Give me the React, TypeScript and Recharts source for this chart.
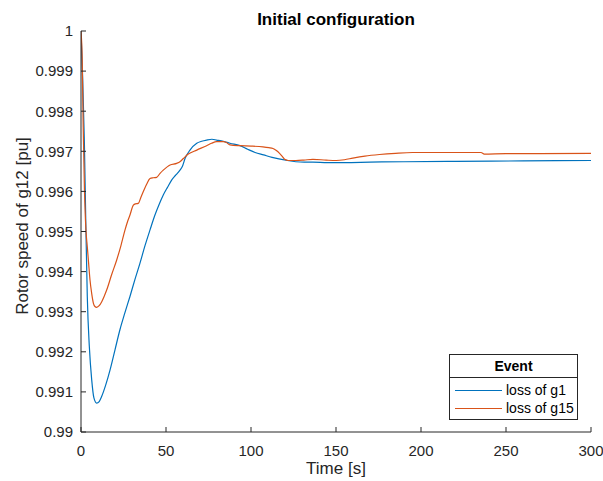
import { LineChart, Line, XAxis, YAxis, Legend } from "recharts";

const timeTicks = [0, 50, 100, 150, 200, 250, 300];
const speedTicks = [0.99, 0.991, 0.992, 0.993, 0.994, 0.995, 0.996, 0.997, 0.998, 0.999, 1];

// loss of g1
const g1Time = [
  0, 1, 2, 2.9, 3.7, 4.9, 6.3, 7.6, 9.2, 10.7, 12.2, 14.6, 17.1, 20, 22.9, 25.8, 28.8, 31.7, 34.7,
  37.6, 40.6, 43.5, 46, 48.4, 51, 53.3, 55.8, 58.2, 59.8, 61.2, 64.1, 68.1, 71, 73.9, 77, 79.8, 83.7,
  87.6, 93.5, 98, 102.4, 107.4, 112.4, 116.4, 121.4, 126.4, 131.4, 136.4, 145, 155, 170, 190, 220,
  260, 300,
];
const g1Speed = [
  1.0, 0.9988, 0.9972, 0.99504, 0.99338, 0.99213, 0.9913, 0.99085, 0.99072, 0.99076, 0.99089,
  0.99118, 0.99155, 0.99205, 0.99255, 0.99297, 0.99338, 0.9938, 0.99421, 0.99464, 0.99504, 0.99541,
  0.99568, 0.99591, 0.99611, 0.99628, 0.99641, 0.99653, 0.99664, 0.99682, 0.99703, 0.9972, 0.99725,
  0.99728, 0.9973, 0.99728, 0.99725, 0.9972, 0.99714, 0.99705, 0.99697, 0.99691, 0.99685, 0.99681,
  0.99677, 0.99674, 0.99673, 0.99673, 0.99672, 0.99672, 0.99673, 0.99674, 0.99675, 0.99676, 0.99677,
];

// loss of g15
const g15Time = [
  0, 0.7, 1.3, 2, 2.9, 3.7, 4.5, 5.3, 6.3, 7.3, 8.2, 9.2, 10.7, 12.2, 13.6, 15.1, 18, 21, 23.5, 25.9,
  27.4, 28.8, 30.8, 32, 33.7, 35.2, 36.6, 38.6, 40.6, 42.5, 44.5, 46.5, 48.4, 52.4, 56.3, 58.2, 60.2,
  63.1, 68.1, 73.9, 76.8, 79.8, 83.7, 85.5, 87.6, 93.5, 100, 107, 110.5, 112.9, 114.5, 116.8, 118.5,
  119.8, 122, 126.4, 131, 136.4, 144.2, 150.1, 155, 159.9, 167, 175.6, 185, 195, 207, 220, 235.3,
  237.2, 250, 270, 300,
];
const g15Speed = [
  1.0, 0.9993, 0.9976, 0.9961, 0.99504, 0.99462, 0.9942, 0.99379, 0.99345, 0.99321, 0.99313, 0.99311,
  0.99315, 0.99325, 0.99338, 0.99354, 0.99392, 0.99429, 0.99465, 0.99504, 0.99525, 0.99541, 0.99566,
  0.99569, 0.9957, 0.99585, 0.99599, 0.99618, 0.99632, 0.99634, 0.99635, 0.99645, 0.99653, 0.99666,
  0.9967, 0.99674, 0.99682, 0.99693, 0.99703, 0.99714, 0.9972, 0.99724, 0.99724, 0.99722, 0.99716,
  0.99714, 0.99713, 0.99711, 0.99709, 0.99707, 0.99703, 0.99695, 0.99687, 0.9968, 0.99677, 0.99677,
  0.99678, 0.9968, 0.99678, 0.99677, 0.99679, 0.99683, 0.99688, 0.99692, 0.99695, 0.99697, 0.99697,
  0.99697, 0.99697, 0.99693, 0.99694, 0.99694, 0.99695,
];

const BLUE = "#0072bd";
const ORANGE = "#d95319";
const AXIS = "#262626";
const FONT = '"Liberation Sans", Arial, Helvetica, sans-serif';

const g1Data = g1Time.map((t, i) => ({ t, speed: g1Speed[i] }));
const g15Data = g15Time.map((t, i) => ({ t, speed: g15Speed[i] }));

function EventLegend({ payload }: { payload?: any[] }) {
  return (
    <div
      style={{
        boxSizing: "border-box",
        width: 129,
        height: 66,
        border: `1px solid ${AXIS}`,
        background: "#fff",
        fontFamily: FONT,
        fontSize: 14,
        color: "#000",
      }}
    >
      <div
        style={{
          height: 22,
          lineHeight: "22px",
          borderBottom: `1px solid ${AXIS}`,
          textAlign: "center",
          fontWeight: "bold",
        }}
      >
        Event
      </div>
      <div style={{ paddingTop: 3 }}>
        {(payload ?? []).map((entry) => (
          <div
            key={entry.value}
            style={{ display: "flex", alignItems: "center", height: 18.3 }}
          >
            <span
              style={{
                display: "inline-block",
                width: 47,
                height: 0,
                marginLeft: 5,
                borderTop: `1.2px solid ${entry.color}`,
              }}
            />
            <span style={{ marginLeft: 4 }}>{entry.value}</span>
          </div>
        ))}
      </div>
    </div>
  );
}

export default function App() {
  return (
    <div
      style={{
        position: "absolute",
        left: 0,
        top: 0,
        width: 603,
        height: 481,
        background: "#fff",
        fontFamily: FONT,
      }}
    >
      <div
        style={{
          position: "absolute",
          left: 81,
          width: 510,
          top: 10.5,
          lineHeight: "17px",
          fontSize: 17,
          fontWeight: "bold",
          textAlign: "center",
          color: "#000",
          zIndex: 2,
        }}
      >
        Initial configuration
      </div>
      <LineChart
        width={603}
        height={481}
        margin={{ top: 31, right: 12, bottom: 0, left: 0 }}
      >
        <XAxis
          dataKey="t"
          type="number"
          domain={[0, 300]}
          ticks={timeTicks}
          interval={0}
          allowDataOverflow
          height={49}
          stroke={AXIS}
          tickSize={-5}
          tickMargin={18}
          tick={{ fontSize: 15, fill: AXIS, fontFamily: FONT }}
          label={{
            value: "Time [s]",
            position: "insideBottom",
            offset: 7,
            fill: AXIS,
            fontSize: 17,
            fontFamily: FONT,
          }}
        />
        <YAxis
          type="number"
          domain={[0.99, 1]}
          ticks={speedTicks}
          interval={0}
          allowDataOverflow
          width={81}
          stroke={AXIS}
          tickSize={-5}
          tickMargin={13}
          tick={{ fontSize: 15, fill: AXIS, fontFamily: FONT }}
          label={{
            content: () => (
              <text
                x={27.5}
                y={226}
                transform="rotate(-90 27.5 226)"
                textAnchor="middle"
                fill={AXIS}
                fontSize={17}
                fontFamily={FONT}
              >
                Rotor speed of g12 [pu]
              </text>
            ),
          }}
        />
        <Legend
          layout="vertical"
          align="center"
          verticalAlign="middle"
          wrapperStyle={{ left: 449, top: 354, width: 129 }}
          content={(props: any) => <EventLegend payload={props.payload} />}
        />
        <Line
          data={g1Data}
          dataKey="speed"
          name="loss of g1"
          type="monotone"
          stroke={BLUE}
          strokeWidth={1.2}
          dot={false}
          isAnimationActive={false}
        />
        <Line
          data={g15Data}
          dataKey="speed"
          name="loss of g15"
          type="monotone"
          stroke={ORANGE}
          strokeWidth={1.2}
          dot={false}
          isAnimationActive={false}
        />
      </LineChart>
    </div>
  );
}
